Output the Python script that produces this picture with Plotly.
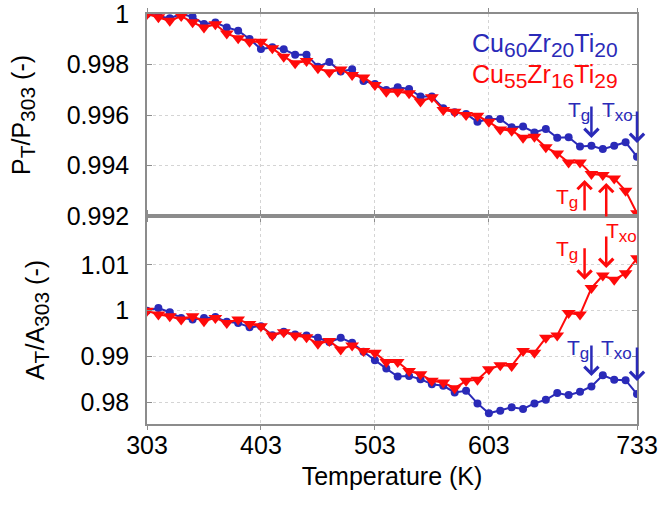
import plotly.graph_objects as go
from plotly.subplots import make_subplots

temperature = [303, 313, 323, 333, 343, 353, 363, 373, 383, 393, 403, 413, 423, 433, 443,
               453, 463, 473, 483, 493, 503, 513, 523, 533, 543, 553, 563, 573, 583, 593,
               603, 613, 623, 633, 643, 653, 663, 673, 683, 693, 703, 713, 723, 733]

p_cu60 = [1.0, 0.99993, 0.99983, 1.0, 0.99989, 0.9996, 0.99966, 0.99947, 0.99934, 0.99901,
          0.99861, 0.99868, 0.9986, 0.99839, 0.99839, 0.99791, 0.9981, 0.99772, 0.99781, 0.99735,
          0.99723, 0.99699, 0.9971, 0.99703, 0.99673, 0.99673, 0.99627, 0.99611, 0.99604, 0.99573,
          0.99584, 0.99584, 0.99551, 0.99554, 0.99531, 0.99545, 0.9951, 0.99512, 0.99475, 0.99478,
          0.99465, 0.99478, 0.99492, 0.99435]

p_cu55 = [1.0, 0.99987, 0.99973, 0.99992, 0.99967, 0.99947, 0.99959, 0.99923, 0.99904, 0.9989,
          0.9989, 0.99864, 0.99831, 0.99805, 0.99814, 0.99785, 0.99769, 0.9978, 0.99758, 0.99749,
          0.99719, 0.99692, 0.99692, 0.99686, 0.99653, 0.9967, 0.9962, 0.99613, 0.996, 0.99597,
          0.99573, 0.99543, 0.99538, 0.9951, 0.99514, 0.99472, 0.99448, 0.99412, 0.99412, 0.99366,
          0.99362, 0.99349, 0.993, 0.99211]

a_cu60 = [1.0, 1.00058, 0.99964, 0.99841, 0.99804, 0.99841, 0.99862, 0.99754, 0.99732, 0.99638,
          0.99659, 0.99464, 0.99536, 0.99478, 0.99457, 0.99406, 0.99312, 0.99406, 0.99297, 0.99101,
          0.98913, 0.98732, 0.98558, 0.98572, 0.985, 0.98391, 0.98355, 0.9821, 0.98246, 0.97971,
          0.97754, 0.97811, 0.97884, 0.97848, 0.97971, 0.9805, 0.98196, 0.98152, 0.98225, 0.98341,
          0.98587, 0.98486, 0.98478, 0.98174]

a_cu55 = [1.0, 0.99913, 0.99877, 0.99804, 0.99877, 0.99768, 0.99841, 0.99732, 0.99804, 0.9971,
          0.99659, 0.99457, 0.99529, 0.99457, 0.9942, 0.99275, 0.99333, 0.99152, 0.99239, 0.99116,
          0.9908, 0.98877, 0.98877, 0.98681, 0.98609, 0.98464, 0.98428, 0.98304, 0.98464, 0.98486,
          0.98717, 0.98804, 0.9879, 0.99116, 0.9908, 0.99406, 0.99457, 0.9995, 0.99913, 1.00493,
          1.00768, 1.00674, 1.0082, 1.01146]

x_ticks = [303, 403, 503, 603, 733]
p_ticks = [0.992, 0.994, 0.996, 0.998, 1.0]
p_tick_text = ["0.992", "0.994", "0.996", "0.998", "1"]
a_ticks = [0.98, 0.99, 1.0, 1.01]
a_tick_text = ["0.98", "0.99", "1", "1.01"]

# transition temperatures marked by arrows
tg_cu60, txo_cu60 = 693, 733
tg_cu55, txo_cu55 = 687, 706

BLUE = "#2a2ab8"
RED = "#ff0a0a"
FONT = "Liberation Sans, Arial, sans-serif"
AXC = "#8c8c8c"
FS = 25


def sub(s, px):
    return "<sub><span style='font-size:%dpx'>%s</span></sub>" % (px, s)


fig = make_subplots(rows=2, cols=1, shared_xaxes=True, vertical_spacing=0,
                    row_heights=[202, 208])

fig.add_trace(go.Scatter(x=temperature, y=p_cu60, mode="lines+markers",
                         line=dict(color=BLUE, width=2),
                         marker=dict(symbol="circle", size=8, color=BLUE)), row=1, col=1)
fig.add_trace(go.Scatter(x=temperature, y=p_cu55, mode="lines+markers",
                         line=dict(color=RED, width=2),
                         marker=dict(symbol="triangle-down", size=12, color=RED)), row=1, col=1)
fig.add_trace(go.Scatter(x=temperature, y=a_cu60, mode="lines+markers",
                         line=dict(color=BLUE, width=2),
                         marker=dict(symbol="circle", size=8, color=BLUE)), row=2, col=1)
fig.add_trace(go.Scatter(x=temperature, y=a_cu55, mode="lines+markers",
                         line=dict(color=RED, width=2),
                         marker=dict(symbol="triangle-down", size=12, color=RED)), row=2, col=1)

xcommon = dict(range=[303, 733], tickvals=x_ticks, showgrid=True, gridcolor="#d4d4d4",
               griddash="dot", gridwidth=1, showline=True, linecolor=AXC, linewidth=1.5,
               mirror="ticks", ticks="outside", ticklen=4, tickcolor=AXC, zeroline=False,
               automargin=False)
fig.update_xaxes(**xcommon, showticklabels=False, row=1, col=1)
fig.update_xaxes(**xcommon, showticklabels=True, ticklabelstandoff=-6,
                 ticklabeloverflow="allow",
                 tickfont=dict(family=FONT, size=FS, color="black"),
                 title=dict(text="Temperature (K)", font=dict(family=FONT, size=FS, color="black"),
                            standoff=10),
                 row=2, col=1)

ycommon = dict(showgrid=True, gridcolor="#d4d4d4", griddash="dot", gridwidth=1,
               showline=True, linecolor=AXC, linewidth=1.5, mirror="ticks",
               ticks="inside", ticklen=5, tickcolor=AXC, zeroline=False, automargin=False,
               ticklabeloverflow="allow",
               tickfont=dict(family=FONT, size=FS, color="black"), ticklabelstandoff=11)
fig.update_yaxes(**ycommon, range=[0.992, 1.0], tickvals=p_ticks, ticktext=p_tick_text,
                 title=dict(text="P" + sub("T", 21) + "/P" + sub("303", 21) + " (-)",
                            font=dict(family=FONT, size=FS, color="black"), standoff=29),
                 row=1, col=1)
fig.update_yaxes(**ycommon, range=[0.9752, 1.0207], tickvals=a_ticks, ticktext=a_tick_text,
                 title=dict(text="A" + sub("T", 21) + "/A" + sub("303", 21) + " (-)",
                            font=dict(family=FONT, size=FS, color="black"), standoff=29),
                 row=2, col=1)

ann = []
# legend-like labels
ann.append(dict(x=652, y=0.99877, xref="x", yref="y", showarrow=False,
                text="Cu" + sub("60", 21) + "Zr" + sub("20", 21) + "Ti" + sub("20", 21),
                font=dict(family=FONT, size=FS, color=BLUE)))
ann.append(dict(x=652, y=0.99756, xref="x", yref="y", showarrow=False,
                text="Cu" + sub("55", 21) + "Zr" + sub("16", 21) + "Ti" + sub("29", 21),
                font=dict(family=FONT, size=FS, color=RED)))

tg_text = "T" + sub("g", 17)
txo_text = "T" + sub("xo", 17)
lab_font_b = dict(family=FONT, size=21, color=BLUE)
lab_font_r = dict(family=FONT, size=21, color=RED)

def arrow(x, y, yref, ay, color):
    return dict(x=x, y=y, xref="x", yref=yref, ax=0, ay=ay, showarrow=True,
                arrowhead=4, arrowsize=1.1, arrowwidth=2.5, arrowcolor=color, text="")

# top panel
ann.append(arrow(tg_cu60, 0.99509, "y", -33, BLUE))
ann.append(arrow(txo_cu60, 0.99489, "y", -33, BLUE))
ann.append(arrow(tg_cu55, 0.99343, "y", 32, RED))
ann.append(arrow(txo_cu55, 0.99331, "y", 35, RED))
ann.append(dict(x=682, y=0.99612, xref="x", yref="y", showarrow=False, text=tg_text, font=lab_font_b))
ann.append(dict(x=716, y=0.99615, xref="x", yref="y", showarrow=False, text=txo_text, font=lab_font_b))
ann.append(dict(x=672, y=0.99271, xref="x", yref="y", showarrow=False, text=tg_text, font=lab_font_r))
# bottom panel
ann.append(arrow(tg_cu55, 1.00674, "y2", -33, RED))
ann.append(arrow(txo_cu55, 1.00935, "y2", -33, RED))
ann.append(arrow(tg_cu60, 0.98572, "y2", -32, BLUE))
ann.append(arrow(txo_cu60, 0.98463, "y2", -35, BLUE))
ann.append(dict(x=719, y=1.0172, xref="x", yref="y2", showarrow=False, text=txo_text, font=lab_font_r))
ann.append(dict(x=672, y=1.01326, xref="x", yref="y2", showarrow=False, text=tg_text, font=lab_font_r))
ann.append(dict(x=681, y=0.99152, xref="x", yref="y2", showarrow=False, text=tg_text, font=lab_font_b))
ann.append(dict(x=715, y=0.99152, xref="x", yref="y2", showarrow=False, text=txo_text, font=lab_font_b))

fig.update_layout(width=659, height=508, margin=dict(l=147, r=22, t=14, b=84),
                  paper_bgcolor="white", plot_bgcolor="white", showlegend=False,
                  annotations=ann, font=dict(family=FONT, size=FS, color="black"))

# remove the default page margin so the figure fills the window exactly
fig.write_html("out.html", config={"displayModeBar": False},
               post_script="document.body.style.margin='0px';document.body.style.overflow='hidden';")
